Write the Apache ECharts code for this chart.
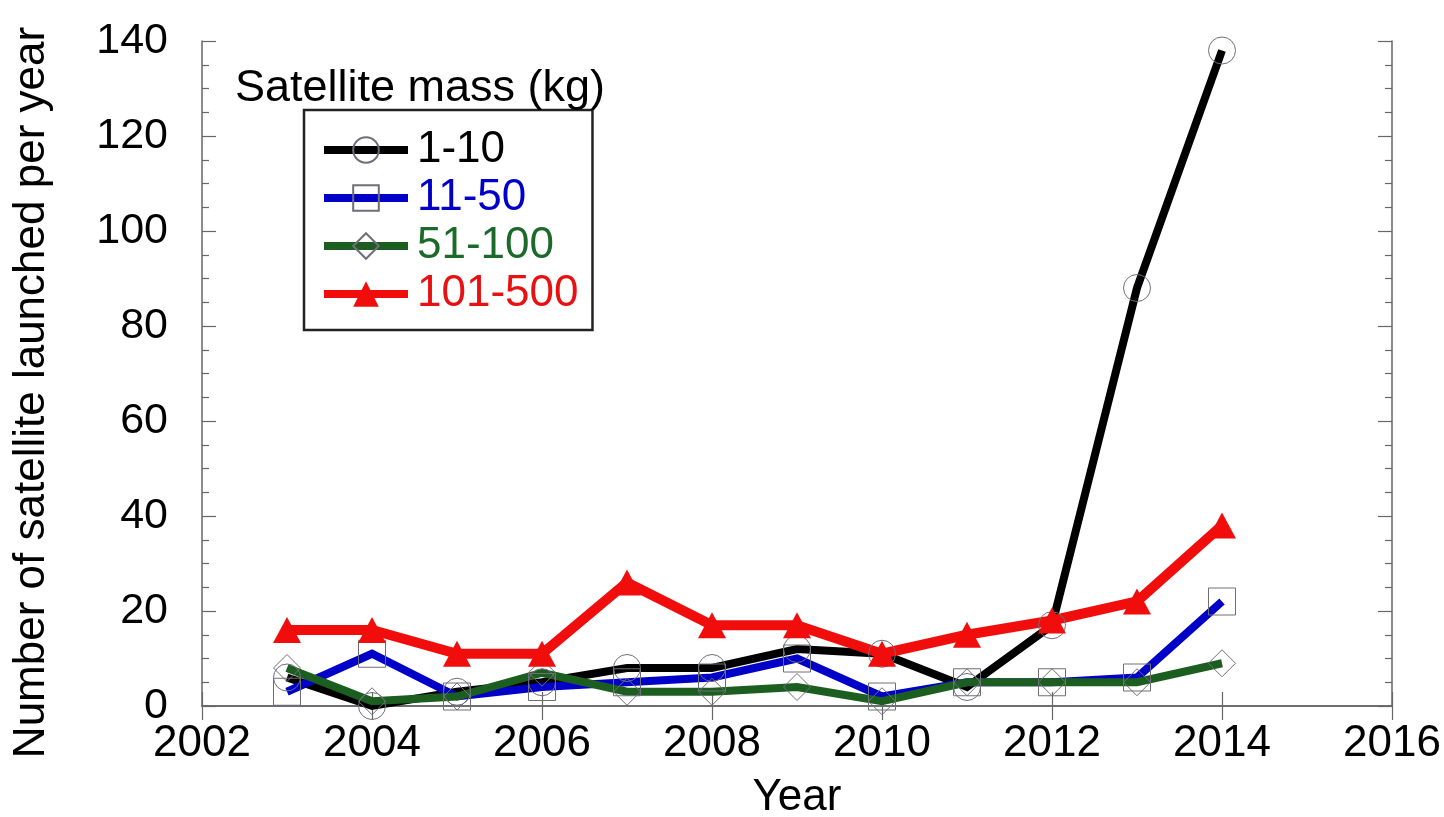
<!DOCTYPE html>
<html>
<head>
<meta charset="utf-8">
<script src="https://cdn.jsdelivr.net/npm/echarts@6/dist/echarts.min.js"></script>
<style>
  html, body { margin: 0; padding: 0; background: #fff; }
  #chart { width: 1444px; height: 817px; }
</style>
</head>
<body>
<div id="chart"></div>
<script>
const YEARS = [2003, 2004, 2005, 2006, 2007, 2008, 2009, 2010, 2011, 2012, 2013, 2014]
const MASS_1_10 = [6, 0, 3, 5, 8, 8, 12, 11, 4, 17, 88, 138]
const MASS_11_50 = [3, 11, 2, 4, 5, 6, 10, 2, 5, 5, 6, 22]
const MASS_51_100 = [8, 1, 2, 7, 3, 3, 4, 1, 5, 5, 5, 9]
const MASS_101_500 = [16, 16, 11, 11, 26, 17, 17, 11, 15, 18, 22, 38]

const LEGEND_TITLE = 'Satellite mass (kg)'
const FONT = '"Liberation Sans", Arial, sans-serif'
const AXIS_COLOR = '#666'
const MARKER_EDGE = '#6e6e78'

const SERIES_DEFS = [
  { name: '1-10', values: MASS_1_10, line: '#000000', text: '#000000', symbol: 'circle', hollow: true, width: 8 },
  { name: '11-50', values: MASS_11_50, line: '#0000c8', text: '#0000c8', symbol: 'rect', hollow: true, width: 8 },
  { name: '51-100', values: MASS_51_100, line: '#1b5e20', text: '#1b6a2a', symbol: 'diamond', hollow: true, width: 8 },
  { name: '101-500', values: MASS_101_500, line: '#f20d0d', text: '#e81010', symbol: 'triangle', hollow: false, width: 10 },
]

const chart = echarts.init(document.getElementById('chart'))

const axisLine = { show: true, lineStyle: { color: AXIS_COLOR, width: 1.5 } }
const axisTick = { show: true, inside: true, length: 14, lineStyle: { color: AXIS_COLOR, width: 1.2 } }
const minorTick = { show: true, splitNumber: 4, length: 7, lineStyle: { color: AXIS_COLOR, width: 1.2 } }

chart.setOption({
  animation: false,
  textStyle: { fontFamily: FONT },
  title: {
    text: LEGEND_TITLE,
    left: 235,
    top: 66,
    padding: 0,
    textStyle: { fontFamily: FONT, fontSize: 45, fontWeight: 'normal', color: '#000' },
  },
  legend: {
    orient: 'vertical',
    left: 304,
    top: 110,
    padding: [18, 14, 14, 16],
    itemWidth: 84,
    itemHeight: 32,
    itemGap: 4,
    borderColor: '#222',
    borderWidth: 2.5,
    backgroundColor: '#fff',
    lineStyle: { width: 8 },
    data: SERIES_DEFS.map((s) => ({ name: s.name, textStyle: { color: s.text } })),
    textStyle: { fontFamily: FONT, fontSize: 44, lineHeight: 44, padding: [0, 0, 0, 4] },
  },
  grid: { left: 202, right: 52, top: 41, bottom: 111, outerBoundsMode: 'none', containLabel: false },
  xAxis: [
    {
      type: 'value',
      min: 2002,
      max: 2016,
      interval: 2,
      name: 'Year',
      nameLocation: 'middle',
      nameGap: 70,
      nameTextStyle: { fontFamily: FONT, fontSize: 44, color: '#000' },
      axisLine,
      axisTick,
      splitLine: { show: false },
      axisLabel: { fontFamily: FONT, fontSize: 44, color: '#000', margin: 16, formatter: (v) => String(v) },
    },
    {
      type: 'value',
      position: 'top',
      min: 2002,
      max: 2016,
      interval: 2,
      axisLine,
      axisTick,
      splitLine: { show: false },
      axisLabel: { show: false },
    },
  ],
  yAxis: [
    {
      type: 'value',
      min: 0,
      max: 140,
      interval: 20,
      name: 'Number of satellite launched per year',
      nameLocation: 'middle',
      nameGap: 148,
      nameRotate: 90,
      nameTextStyle: { fontFamily: FONT, fontSize: 44, color: '#000', padding: [0, 38, 0, 0] },
      axisLine,
      axisTick,
      minorTick,
      splitLine: { show: false },
      axisLabel: { fontFamily: FONT, fontSize: 43, color: '#000', margin: 34 },
    },
    {
      type: 'value',
      position: 'right',
      min: 0,
      max: 140,
      interval: 20,
      axisLine,
      axisTick,
      minorTick,
      splitLine: { show: false },
      axisLabel: { show: false },
    },
  ],
  series: SERIES_DEFS.map((s) => ({
    name: s.name,
    type: 'line',
    data: YEARS.map((y, i) => [y, s.values[i]]),
    symbol: s.symbol,
    symbolSize: s.symbol === 'triangle' ? [28, 26] : 27,
    showSymbol: true,
    clip: false,
    lineStyle: { color: s.line, width: s.width, join: 'miter' },
    itemStyle: s.hollow
      ? { color: 'rgba(0,0,0,0)', borderColor: MARKER_EDGE, borderWidth: 1 }
      : { color: s.line, borderWidth: 0 },
    emphasis: { disabled: true },
  })),
})
</script>
</body>
</html>
